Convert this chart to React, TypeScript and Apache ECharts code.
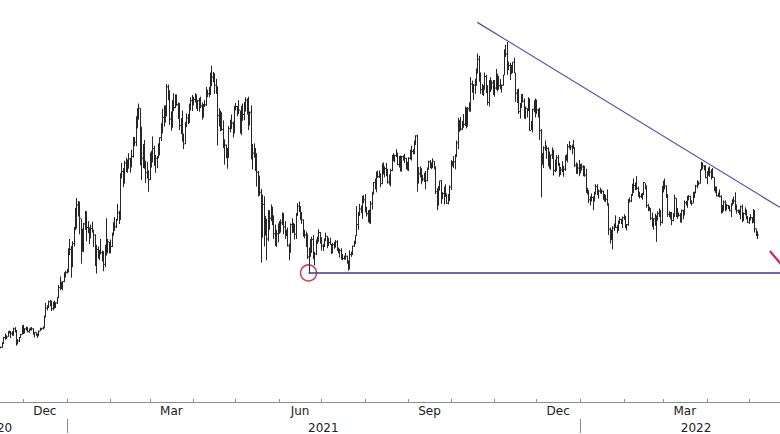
import React, { useEffect, useRef } from "react";
import * as echarts from "echarts";

// Daily bars, values in USD thousands: [high, low, close]
const FIRST_DAY = "2020-11-15";
const nov2020 = [[16.1,15.8,16.0],[16.9,15.9,16.7],[17.8,16.6,17.7],[18.4,17.3,17.8],[18.1,17.4,17.8],[18.8,17.8,18.7],[18.9,18.4,18.7],[18.7,17.6,18.4],[18.8,18.0,18.4],[19.4,18.0,19.2],[19.5,18.6,18.7],[19.0,16.3,17.1],[17.4,16.5,17.1],[17.8,16.9,17.7],[18.3,17.6,18.2],[19.8,18.2,19.7]];
const dec2020 = [[19.9,18.3,18.8],[19.3,18.4,19.2],[19.6,18.9,19.4],[19.5,18.6,18.7],[19.2,18.5,19.2],[19.4,18.9,19.4],[19.4,18.9,19.2],[19.3,18.2,18.3],[18.6,17.7,18.6],[18.6,18.0,18.3],[18.3,17.6,18.0],[18.9,18.0,18.8],[19.4,18.8,19.2],[19.3,19.0,19.3],[19.6,19.1,19.4],[21.5,19.3,21.3],[23.7,21.2,22.8],[23.3,22.4,23.1],[24.1,22.8,23.9],[24.2,23.1,23.5],[24.1,22.3,22.7],[23.9,22.4,23.8],[24.1,22.7,23.2],[23.8,22.8,23.7],[24.7,23.5,24.7],[26.8,24.5,26.4],[28.3,25.9,26.3],[27.4,26.1,27.1],[27.4,25.9,27.4],[29.0,27.3,28.9],[29.3,28.1,29.0]];
const jan2021 = [[29.6,28.8,29.4],[33.2,29.0,32.2],[34.8,32.0,33.0],[33.6,28.1,32.0],[34.4,29.9,34.0],[36.9,33.5,36.8],[40.2,36.3,39.4],[41.9,36.6,40.7],[41.4,38.7,40.3],[41.3,35.6,38.4],[38.3,30.5,35.6],[36.6,32.6,34.0],[37.6,32.5,37.4],[39.7,36.4,39.2],[39.6,34.4,36.8],[37.9,35.8,36.2],[36.8,33.9,35.8],[37.3,34.9,36.6],[37.8,35.9,36.1],[36.4,33.4,35.5],[35.6,30.1,30.8],[33.8,28.8,33.0],[33.5,31.4,32.1],[32.9,31.1,32.3],[34.8,32.1,32.4],[32.8,30.9,32.6],[32.6,29.2,30.4],[33.8,29.9,33.5],[38.4,31.9,34.3],[34.8,32.3,34.3],[34.3,32.3,33.1]];
const feb2021 = [[34.7,32.3,33.5],[35.9,33.4,35.5],[37.7,35.4,37.7],[38.6,36.2,36.9],[38.3,36.7,38.1],[40.9,38.1,39.3],[39.7,37.4,38.9],[46.2,38.1,46.2],[48.0,45.3,46.5],[47.1,43.8,44.9],[48.4,44.4,48.0],[48.9,46.4,47.5],[48.6,46.3,47.1],[49.7,47.1,48.7],[48.9,46.3,47.9],[50.3,47.2,49.1],[52.5,48.9,52.1],[52.5,50.9,51.6],[56.1,50.9,55.9],[57.5,54.0,55.9],[58.3,55.5,57.5],[57.5,47.6,54.2],[54.2,45.0,48.8],[51.3,47.1,49.7],[52.0,47.0,47.1],[48.4,44.5,46.3],[48.2,45.3,46.2],[46.7,43.0,45.1]];
const mar2021 = [[49.8,45.0,49.6],[50.1,47.2,48.4],[52.6,48.1,50.5],[51.0,47.5,48.4],[49.4,46.3,48.8],[49.2,47.1,48.9],[51.4,48.9,51.2],[52.4,49.3,52.4],[54.9,51.8,54.9],[57.4,53.1,55.9],[58.0,54.3,57.3],[58.0,55.0,57.2],[61.7,56.1,61.2],[61.6,58.9,59.0],[60.6,54.6,55.6],[56.9,53.6,56.9],[58.9,54.1,58.9],[60.1,57.0,57.6],[59.9,57.5,58.3],[59.9,57.9,58.1],[58.5,55.6,57.5],[58.4,53.7,54.5],[55.8,53.0,54.3],[57.1,51.7,52.3],[53.1,50.4,51.3],[55.1,51.3,55.0],[56.6,54.2,55.8],[56.5,54.7,55.8],[58.3,54.9,57.6],[59.4,57.1,58.8],[59.8,57.0,58.9]];
const apr2021 = [[59.5,58.0,59.0],[60.1,58.5,59.1],[59.9,57.4,57.6],[58.9,57.0,58.8],[59.3,56.9,59.0],[59.5,57.5,57.9],[58.5,55.5,56.0],[58.2,55.9,58.1],[58.9,57.7,58.1],[61.2,57.9,59.8],[60.7,59.4,60.0],[61.2,59.4,59.9],[63.7,59.8,63.5],[64.9,61.3,62.9],[63.8,62.0,63.3],[63.6,60.0,61.5],[62.6,60.0,60.1],[61.3,51.0,56.2],[57.5,54.3,55.7],[57.1,53.5,56.5],[56.8,53.6,53.8],[55.4,50.6,51.7],[52.1,47.7,51.1],[51.2,48.8,50.0],[50.6,47.0,49.0],[54.4,48.9,54.0],[55.5,53.3,55.0],[56.4,53.9,54.9],[55.2,52.4,53.6],[57.9,53.1,57.8]];
const may2021 = [[58.4,57.1,57.8],[57.9,56.1,56.6],[58.9,56.5,57.2],[57.1,53.1,53.3],[57.9,52.9,57.4],[58.3,55.3,56.4],[58.6,55.4,57.4],[59.4,56.9,58.9],[59.2,56.4,58.3],[59.5,53.7,55.9],[56.9,54.5,56.8],[58.0,48.6,49.2],[51.3,46.9,49.7],[51.4,48.9,49.9],[50.6,46.6,46.8],[49.7,43.9,46.4],[46.6,42.2,43.6],[45.8,42.3,42.9],[43.5,30.7,37.0],[42.5,35.0,40.8],[42.2,33.5,37.3],[38.8,35.4,37.5],[38.3,31.1,34.8],[39.8,34.4,38.8],[39.8,36.4,38.4],[40.8,37.9,39.3],[40.4,37.2,38.4],[38.9,34.8,35.7],[37.3,33.6,34.6],[36.4,33.4,35.7],[37.5,34.2,37.3]];
const jun2021 = [[37.9,35.7,36.7],[38.2,35.9,37.6],[39.4,37.2,39.2],[39.2,35.6,36.9],[37.9,34.8,35.6],[36.4,35.3,35.8],[36.8,33.5,33.6],[34.0,31.1,33.5],[37.5,32.4,37.3],[38.4,35.8,36.7],[37.6,35.9,37.3],[37.4,34.7,35.6],[39.3,34.8,39.1],[41.0,38.8,40.5],[41.3,39.5,40.1],[40.5,38.1,38.3],[39.5,37.4,38.1],[38.2,35.2,35.8],[36.4,34.9,35.5],[36.1,33.4,35.6],[35.7,31.3,31.7],[33.3,28.8,32.5],[34.8,31.7,33.7],[35.2,32.4,34.7],[35.5,31.3,31.6],[32.6,30.2,32.2],[34.7,32.0,34.6],[35.2,33.9,34.5],[36.5,34.3,35.9],[36.0,34.0,35.0]];
const jul2021 = [[35.0,32.8,33.6],[33.9,32.7,33.9],[34.9,33.4,34.7],[35.9,34.4,35.3],[35.3,33.2,33.7],[35.0,33.6,34.2],[35.0,33.8,33.9],[33.9,32.2,32.9],[34.1,32.3,33.8],[34.3,33.1,33.5],[34.6,33.3,34.3],[34.6,32.7,33.1],[33.3,32.3,32.7],[33.1,31.6,32.8],[33.2,31.2,31.8],[32.2,31.1,31.4],[31.9,31.2,31.5],[32.4,31.2,31.8],[31.9,30.5,30.8],[31.1,29.3,29.8],[32.8,29.5,32.1],[32.6,31.7,32.3],[33.6,32.0,33.6],[34.5,33.4,34.3],[35.4,33.9,35.4],[40.5,35.3,37.3],[39.5,36.4,39.4],[40.9,38.8,40.0],[40.6,39.3,40.0],[42.3,38.3,42.2],[42.4,41.0,41.6]];
const aug2021 = [[42.6,39.4,39.9],[40.4,38.7,39.2],[39.8,37.7,38.2],[39.9,37.5,39.7],[41.4,37.4,40.9],[43.0,39.9,42.8],[44.7,42.5,44.6],[45.3,43.4,43.8],[46.5,42.9,46.3],[46.7,45.4,45.6],[46.7,45.4,45.6],[46.2,43.8,44.4],[47.9,44.3,47.8],[48.1,46.0,47.1],[47.4,45.5,47.0],[48.0,45.7,46.0],[47.0,44.4,44.7],[46.0,44.2,44.8],[47.0,43.9,46.7],[49.4,46.6,49.3],[49.7,48.3,48.9],[49.4,48.1,49.3],[50.4,49.0,49.5],[49.8,47.6,47.7],[49.2,47.2,48.9],[49.3,46.5,47.0],[49.2,46.5,49.1],[49.3,48.4,48.9],[49.6,48.0,48.8],[48.9,46.9,47.1],[48.2,46.7,47.2]];
const sep2021 = [[49.0,46.6,48.8],[50.3,48.6,49.3],[51.0,48.4,50.0],[50.4,49.5,49.9],[51.9,49.5,51.8],[52.8,51.1,52.7],[52.9,43.0,46.8],[47.3,44.4,46.1],[47.4,45.5,46.4],[47.1,44.3,44.9],[45.9,44.8,45.2],[46.3,44.7,46.1],[46.6,43.4,44.9],[47.2,44.8,47.1],[48.4,46.8,48.2],[48.5,47.1,47.8],[48.1,46.9,47.3],[48.8,47.1,48.3],[48.3,46.9,47.3],[47.3,42.6,43.0],[43.6,39.8,40.7],[44.0,40.6,43.6],[44.9,43.2,44.9],[45.0,40.9,42.8],[42.9,41.7,42.7],[43.9,40.8,43.2],[44.3,42.1,42.2],[42.7,40.9,41.0],[42.6,40.8,41.5],[44.1,41.5,43.8]];
const oct2021 = [[48.5,43.3,48.1],[48.3,47.4,47.7],[49.2,47.1,48.2],[49.5,46.9,49.1],[51.9,49.1,51.5],[55.8,50.4,55.4],[55.3,53.4,53.8],[56.0,53.6,53.9],[55.3,53.7,55.0],[56.5,54.1,54.7],[57.8,54.4,57.5],[57.6,54.0,56.0],[57.7,54.3,57.4],[58.5,56.9,57.3],[62.9,56.9,61.7],[62.3,60.2,60.9],[61.7,58.9,61.5],[62.6,60.0,62.0],[64.4,61.4,64.3],[67.0,63.5,66.0],[66.6,62.1,62.2],[63.7,60.0,60.7],[61.7,59.8,61.4],[61.4,59.6,60.9],[63.7,60.7,63.0],[63.3,60.1,60.4],[61.5,58.0,58.5],[62.4,57.8,60.6],[62.9,60.3,62.2],[62.3,60.7,61.9],[62.4,59.8,61.3]];
const nov2021 = [[62.4,59.5,61.0],[64.3,60.7,63.2],[63.5,60.4,62.9],[63.1,60.7,61.4],[62.6,60.8,61.0],[61.6,60.2,61.5],[63.3,61.4,63.3],[67.7,63.3,67.6],[68.5,66.4,66.9],[69.0,63.3,64.9],[65.6,64.1,64.9],[65.4,62.4,64.2],[65.0,63.4,64.5],[65.5,63.6,65.5],[66.3,63.6,63.6],[63.6,58.6,60.1],[60.8,58.4,60.4],[60.9,56.5,56.9],[58.4,55.7,58.1],[59.9,57.5,59.8],[60.0,58.5,58.7],[59.2,55.7,56.3],[57.8,55.6,57.5],[57.5,55.9,57.2],[59.4,57.0,58.9],[59.2,53.6,53.6],[55.3,53.7,54.8],[57.4,53.3,57.3],[58.9,56.8,57.8],[59.2,55.9,57.0]];
const dec2021 = [[59.0,56.5,57.2],[57.4,55.9,56.5],[57.6,52.0,53.6],[53.9,42.0,49.2],[49.7,47.7,49.4],[50.9,47.1,50.6],[51.9,50.1,50.6],[51.0,48.7,50.5],[50.7,47.4,47.7],[50.0,47.0,47.2],[49.4,46.8,49.4],[50.7,48.7,50.1],[50.3,45.8,46.7],[48.6,46.4,48.4],[49.4,46.6,48.9],[49.4,47.5,47.6],[48.0,45.6,46.2],[47.3,45.9,46.8],[48.3,46.4,46.7],[47.5,45.6,46.9],[49.3,46.6,49.0],[49.5,48.4,48.6],[51.3,48.1,50.8],[51.8,50.5,50.4],[51.1,50.2,50.8],[51.2,49.5,50.6],[52.0,50.5,50.6],[50.7,47.3,47.6],[48.1,46.1,46.5],[47.9,46.1,47.1],[48.5,45.7,46.3]];
const jan2022 = [[47.8,46.2,47.7],[47.9,46.7,47.3],[47.6,45.7,46.5],[47.5,45.6,45.9],[47.0,42.8,43.5],[43.7,42.5,43.2],[43.1,41.0,41.6],[42.2,40.6,41.8],[42.7,41.3,42.0],[42.2,39.8,41.8],[43.0,41.3,42.7],[44.3,42.5,43.9],[44.3,42.4,42.6],[43.4,41.8,43.1],[43.7,42.7,43.2],[43.4,42.6,43.1],[43.2,41.6,42.2],[42.6,41.3,42.4],[42.4,41.2,41.7],[43.4,40.6,40.7],[41.0,35.5,36.5],[36.8,34.0,35.0],[36.4,34.6,36.3],[37.0,33.0,36.7],[37.5,36.2,36.9],[38.9,36.7,36.8],[37.2,35.8,37.2],[38.0,36.2,37.7],[38.6,37.4,38.2],[38.3,37.4,37.9],[38.7,36.7,38.5]];
const feb2022 = [[39.1,38.1,38.7],[38.8,36.7,36.9],[37.4,36.3,37.3],[41.7,37.1,41.6],[42.0,41.1,41.4],[42.6,41.2,42.4],[44.4,42.3,43.8],[45.3,42.8,44.1],[44.6,43.3,44.3],[45.7,43.3,43.6],[43.9,42.1,42.4],[43.0,41.8,42.2],[42.7,41.9,42.1],[42.8,41.6,42.6],[44.7,42.4,44.6],[44.5,43.4,43.9],[44.1,40.2,40.6],[40.9,39.6,40.0],[40.4,39.7,40.1],[40.1,38.1,38.4],[39.4,36.9,37.0],[38.4,36.4,38.3],[39.2,37.1,37.3],[38.9,34.3,38.3],[39.6,38.0,39.2],[40.1,38.6,39.1],[39.8,37.1,37.7],[44.0,37.5,43.2]];
const mar2022 = [[44.9,42.9,44.4],[45.3,43.4,44.0],[44.1,41.9,42.5],[42.5,38.6,39.1],[39.6,38.6,39.4],[39.4,38.2,38.4],[39.5,37.2,38.0],[39.3,37.9,38.7],[42.5,38.7,41.9],[41.9,38.6,39.4],[40.2,38.3,38.8],[39.4,38.7,38.9],[39.3,37.7,37.8],[39.9,37.6,39.7],[39.9,38.2,39.3],[41.5,38.9,41.1],[41.4,40.6,40.9],[42.3,40.2,41.8],[42.4,41.5,42.2],[42.3,40.9,41.3],[41.5,40.6,41.0],[43.0,41.0,42.4],[43.0,41.9,42.9],[44.2,42.7,44.0],[45.0,43.6,44.3],[44.8,44.1,44.5],[46.9,44.4,46.8],[48.2,46.7,47.1],[48.1,46.9,47.5],[47.6,46.7,47.1],[47.6,45.3,45.5]];
const apr2022 = [[46.6,44.3,46.3],[47.2,45.8,45.8],[47.4,45.6,46.4],[46.9,45.1,46.6],[47.1,45.4,45.5],[45.5,43.1,43.2],[43.9,42.8,43.4],[43.9,42.2,42.3],[42.8,42.1,42.8],[43.4,42.0,42.2],[42.4,39.2,39.5],[40.7,39.3,40.1],[41.5,39.6,41.2],[41.5,39.6,39.9],[40.9,39.8,40.6],[40.7,40.0,40.4],[40.6,39.6,39.7],[41.0,38.6,40.8],[41.7,40.6,41.5],[42.2,40.9,41.4],[42.9,39.8,40.5],[40.8,39.2,39.7],[39.9,39.3,39.5],[39.9,39.0,39.5],[40.6,38.2,40.4],[40.8,37.7,38.1],[39.4,37.9,39.2],[40.3,38.9,39.7],[39.9,38.2,38.6],[38.8,37.6,37.7]];
const may2022 = [[38.6,37.4,38.5],[39.1,38.0,38.5],[38.6,37.5,37.7],[40.0,37.7,39.7],[39.8,35.9,36.6],[36.6,35.3,36.0],[36.1,34.8,35.5]];

const MONTH_NAMES = ["Jan", "Feb", "Mar", "Apr", "May", "Jun", "Jul", "Aug", "Sep", "Oct", "Nov", "Dec"];
const LABELLED_MONTHS = ["Mar", "Jun", "Sep", "Dec"];
const YEAR_LABELS = ["2020", "2021", "2022"];

// Annotations
const SUPPORT_FROM = "2021-06-22";
const SUPPORT_LEVEL = 28.9;
const TREND_START = ["2021-10-20", 72.4];
const TREND_END = ["2022-05-23", 40.3];
const ARROW_START = ["2022-05-16", 32.7];
const ARROW_END = ["2022-05-24", 30.4];

// Visible window and full period used for year-label centring
const VIEW_MIN = Date.UTC(2020, 10, 14, 16);
const VIEW_MAX = Date.UTC(2022, 4, 23, 4);
const PERIOD_START = "2020-09-24";
const PERIOD_END = "2022-06-15";
const Y_MIN = 6.5;
const Y_MAX = 75;

const DAY = 86400000;
const BAR_COLOR = "#262626";
const AXIS_COLOR = "#8c8c8c";
const TEXT_COLOR = "#222222";
const FONT = "DejaVu Sans";

export default function App() {
  const ref = useRef<HTMLDivElement>(null);
  useEffect(() => {
    if (!ref.current) return;
    const chart = echarts.init(ref.current, undefined, { renderer: "svg" });
    const all = [nov2020, dec2020, jan2021, feb2021, mar2021, apr2021, may2021, jun2021, jul2021, aug2021, sep2021, oct2021, nov2021, dec2021, jan2022, feb2022, mar2022, apr2022, may2022].flat();
    const t0 = Date.parse(FIRST_DAY);
    const bars = all.map((d, i) => [t0 + i * DAY, d[0], d[1], d[2]]);
    const toTs = (s: any) => (typeof s === "string" ? Date.parse(s) : s);

    chart.setOption({
      animation: false,
      useUTC: true,
      backgroundColor: "#ffffff",
      grid: { left: 0, right: 0, top: 7.4, bottom: 32 },
      xAxis: {
        type: "time",
        min: VIEW_MIN,
        max: VIEW_MAX,
        axisLine: { show: true, lineStyle: { color: AXIS_COLOR, width: 1 } },
        axisTick: { show: false },
        axisLabel: { show: false },
        splitLine: { show: false },
      },
      yAxis: {
        type: "value",
        min: Y_MIN,
        max: Y_MAX,
        show: false,
        splitLine: { show: false },
      },
      series: [
        {
          type: "custom",
          clip: true,
          encode: { x: 0, y: [1, 2, 3] },
          data: bars,
          renderItem: (_p: any, api: any) => {
            const t = api.value(0);
            const hi = api.coord([t, api.value(1)]);
            const lo = api.coord([t, api.value(2)]);
            const cl = api.coord([t, api.value(3)]);
            const x = Math.round(hi[0]) + 0.5;
            return {
              type: "group",
              children: [
                { type: "line", shape: { x1: x, y1: hi[1], x2: x, y2: lo[1] }, style: { stroke: BAR_COLOR, lineWidth: 1 } },
                { type: "line", shape: { x1: x, y1: cl[1], x2: x + 1.5, y2: cl[1] }, style: { stroke: BAR_COLOR, lineWidth: 1 } },
              ],
            };
          },
        },
        {
          type: "line",
          data: [[toTs(SUPPORT_FROM), SUPPORT_LEVEL], [VIEW_MAX + 5 * DAY, SUPPORT_LEVEL]],
          symbol: "none",
          lineStyle: { color: "#3434a6", width: 1.6 },
          z: 3,
        },
        {
          type: "line",
          data: [[toTs(TREND_START[0]), TREND_START[1]], [toTs(TREND_END[0]), TREND_END[1]]],
          symbol: "none",
          lineStyle: { color: "#4a4ab2", width: 1.2 },
          z: 3,
        },
        {
          type: "line",
          data: [[toTs(ARROW_START[0]), ARROW_START[1]], [toTs(ARROW_END[0]), ARROW_END[1]]],
          symbol: "none",
          lineStyle: { color: "#c8285a", width: 2.2 },
          z: 3,
        },
        {
          type: "scatter",
          data: [[toTs(SUPPORT_FROM), SUPPORT_LEVEL]],
          symbol: "circle",
          symbolSize: 16,
          itemStyle: { color: "rgba(0,0,0,0)", borderColor: "#b01e3c", borderWidth: 1.6 },
          z: 4,
        },
      ],
    });

    const px = (t: number) => chart.convertToPixel({ xAxisIndex: 0 }, t) as number;
    const axisY = chart.convertToPixel({ yAxisIndex: 0 }, Y_MIN) as number;
    const elements: any[] = [];
    // Monthly ticks and labels
    for (let y = 2020; y <= 2022; y++) {
      for (let m = 0; m < 12; m++) {
        const s = Date.UTC(y, m, 1);
        const e = Date.UTC(y, m + 1, 1);
        const xs = px(s);
        if (xs >= 0 && xs <= 780) {
          elements.push({ type: "line", shape: { x1: Math.round(xs) + 0.5, y1: axisY - 3, x2: Math.round(xs) + 0.5, y2: axisY }, style: { stroke: AXIS_COLOR, lineWidth: 1 }, silent: true });
          if (m === 0) {
            elements.push({ type: "line", shape: { x1: Math.round(xs) + 0.5, y1: axisY + 17, x2: Math.round(xs) + 0.5, y2: axisY + 31 }, style: { stroke: AXIS_COLOR, lineWidth: 1 }, silent: true });
          }
        }
        const mid = (px(s) + px(e)) / 2;
        if (LABELLED_MONTHS.includes(MONTH_NAMES[m]) && mid > 0 && mid < 780) {
          elements.push({ type: "text", x: mid, y: axisY + 9, style: { text: MONTH_NAMES[m], fontSize: 12, fontFamily: FONT, fill: TEXT_COLOR, align: "center", verticalAlign: "middle", textAlign: "center", textVerticalAlign: "middle" }, silent: true });
        }
      }
    }
    // Year labels
    YEAR_LABELS.forEach((lab) => {
      const yr = Number(lab);
      const s = Math.max(Date.UTC(yr, 0, 1), Date.parse(PERIOD_START));
      const e = Math.min(Date.UTC(yr + 1, 0, 1), Date.parse(PERIOD_END));
      const mid = (px(s) + px(e)) / 2;
      elements.push({ type: "text", x: mid, y: axisY + 26, style: { text: lab, fontSize: 12, fontFamily: FONT, fill: TEXT_COLOR, align: "center", verticalAlign: "middle", textAlign: "center", textVerticalAlign: "middle" }, silent: true });
    });
    chart.setOption({ graphic: { elements } });

    return () => chart.dispose();
  }, []);
  return <div ref={ref} style={{ position: "fixed", left: 0, top: 0, width: 780, height: 434, background: "#fff" }} />;
}
